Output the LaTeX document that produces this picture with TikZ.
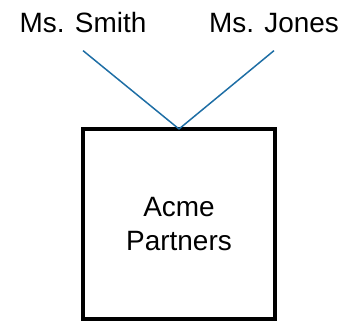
\documentclass[tikz,border=0pt]{standalone}
\usepackage{fontspec}
\setmainfont{Liberation Sans}
\definecolor{linkblue}{RGB}{30,110,165}
\tikzset{
    firm/.style={draw, line width=2.3pt, minimum width=3.84cm, minimum height=3.8cm,
        outer sep=0, align=center, font=\fontsize{15.9}{19.4}\selectfont},
    person/.style={anchor=base, inner xsep=0, inner ysep=0.34cm,
        font=\fontsize{15.9}{19.4}\selectfont},
    link/.style={linkblue, line width=0.85pt}
}
\begin{document}
\begin{tikzpicture}
        \useasboundingbox (0,0) rectangle (6.9,6.44);
        \node[firm] (acme) at (3.58,1.96) {Acme\\Partners};
        \node[person] (smith) at (1.66,5.78) {Ms. Smith};
        \node[person] (jones) at (5.48,5.78) {Ms. Jones};
        \draw[link] (smith.south) -- (acme.north);
        \draw[link] (jones.south) -- (acme.north);
    \end{tikzpicture}
\end{document}
